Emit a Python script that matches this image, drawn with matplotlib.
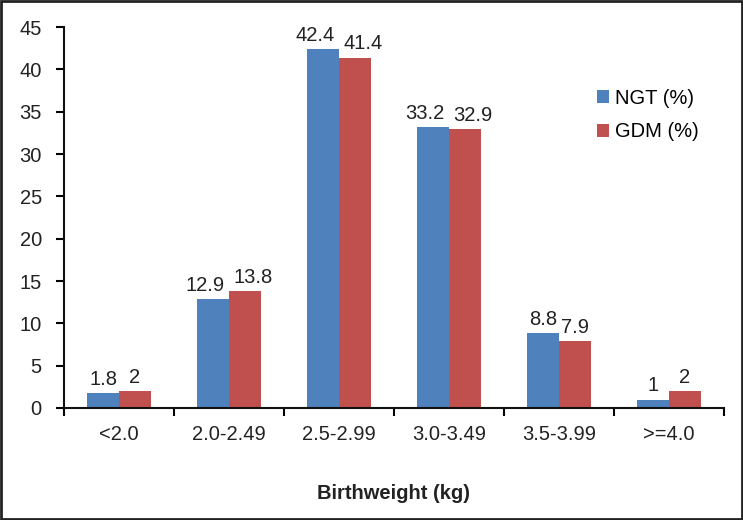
import matplotlib
matplotlib.use("Agg")
import matplotlib.pyplot as plt
import numpy as np

categories = ["<2.0", "2.0-2.49", "2.5-2.99", "3.0-3.49", "3.5-3.99", ">=4.0"]
ngt = [1.8, 12.9, 42.4, 33.2, 8.8, 1]
gdm = [2, 13.8, 41.4, 32.9, 7.9, 2]
series_names = ["NGT (%)", "GDM (%)"]

BLUE = "#4f81bd"
RED = "#c0504d"
FS = 14.5

plt.rcParams["font.family"] = ["Liberation Sans", "DejaVu Sans"]

fig = plt.figure(figsize=(7.43, 5.2), dpi=100)
ax = fig.add_axes([0.0861, 0.2154, 0.8883, 0.7326])

x = np.arange(len(categories))
w = 0.29
b1 = ax.bar(x - w / 2, ngt, w, color=BLUE, label=series_names[0])
b2 = ax.bar(x + w / 2, gdm, w, color=RED, label=series_names[1])

# wide labels are pushed apart like the spreadsheet did, so they don't collide
for bars, vals, side in ((b1, ngt, -1), (b2, gdm, 1)):
    for r, v in zip(bars, vals):
        txt = "%g" % v
        dx = side * 6 if len(txt) >= 4 else 0
        ax.annotate(txt, (r.get_x() + r.get_width() / 2, v),
                    xytext=(dx, 3), textcoords="offset points",
                    ha="center", va="bottom", fontsize=FS, color="#222222")

ax.set_xlim(-0.5, len(categories) - 0.5)
ax.set_ylim(0, 45)
ax.set_yticks(range(0, 46, 5))
ax.set_xticks(x)
ax.set_xticklabels(categories)
ax.set_xticks(np.arange(len(categories) + 1) - 0.5, minor=True)
ax.tick_params(axis="x", which="major", length=0, pad=12, labelsize=FS,
               labelcolor="#222222")
ax.tick_params(axis="x", which="minor", length=6, width=1.5, direction="out")
ax.tick_params(axis="y", length=6, width=1.5, direction="out", pad=10,
               labelsize=FS, labelcolor="#222222")
for s in ("top", "right"):
    ax.spines[s].set_visible(False)
for s in ("left", "bottom"):
    ax.spines[s].set_linewidth(1.5)
    ax.spines[s].set_color("#111111")

ax.set_xlabel("Birthweight (kg)", fontsize=FS, fontweight="bold",
              labelpad=29, color="#222222")

ax.legend(loc="upper left", bbox_to_anchor=(0.78, 0.885), frameon=False,
          fontsize=FS, handlelength=0.6, handleheight=0.6,
          handletextpad=0.3, labelspacing=0.72)

# outer frame around the whole figure
fig.patches.append(plt.Rectangle((0.001, 0.001), 0.998, 0.998,
                                 transform=fig.transFigure, fill=False,
                                 edgecolor="#222222", linewidth=2))

fig.savefig("out.png", dpi=100)
